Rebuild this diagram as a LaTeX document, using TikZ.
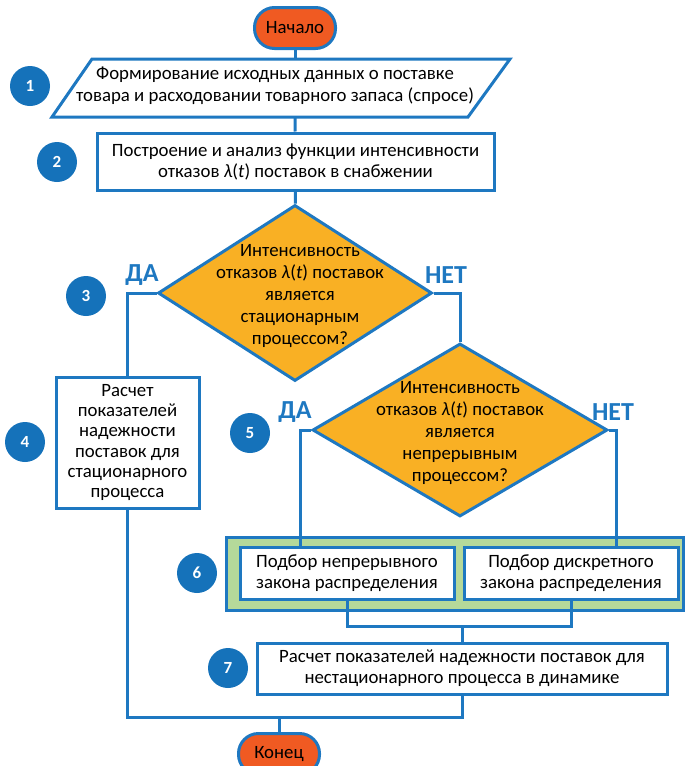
\documentclass[tikz,border=0pt]{standalone}
\usepackage{fontspec}
\setmainfont{Carlito}
\usetikzlibrary{shapes.geometric}
\definecolor{lineblue}{RGB}{30,120,193}
\definecolor{numblue}{RGB}{21,114,186}
\definecolor{termorange}{RGB}{240,90,34}
\definecolor{decyellow}{RGB}{249,176,36}
\definecolor{groupgreen}{RGB}{181,217,154}
\tikzset{
  conn/.style = {draw = lineblue, line width = 3pt},
  terminal/.style = {draw = lineblue, line width = 3pt, fill = termorange, rounded corners = 20pt,
    minimum width = 81pt, minimum height = 41pt, font = \fontsize{18.8}{22}\selectfont},
  procbox/.style = {draw = lineblue, line width = 3pt, fill = white, align = center, inner sep = 0pt,
    font = \fontsize{18.8}{21}\selectfont},
  decision/.style = {diamond, draw = lineblue, line width = 3pt, fill = decyellow, inner sep = 0pt},
  qtext/.style = {align = center, font = \fontsize{18.8}{22}\selectfont},
  stepnum/.style = {circle, fill = numblue, text = white, minimum size = 40pt, inner sep = 0pt,
    font = \fontsize{17}{17}\selectfont\bfseries},
  answer/.style = {text = lineblue, font = \fontsize{26}{26}\selectfont\bfseries}
}
\newcommand{\lamt}{\textit{λ}(\textit{t})}
\begin{document}
\begin{tikzpicture}[x = 1pt, y = -1pt]
        \useasboundingbox (0, 0) rectangle (688, 766);
        %group of step 6
        \draw[conn, fill = groupgreen] (226, 537) rectangle (683, 610);
        %nodes
        \node[terminal] (start) at (295, 28) {Начало};
        \draw[conn, fill = white] (92, 59) -- (510, 59) -- (468, 117) -- (52, 117) -- cycle;
        \node[qtext] (input) at (275, 86) {Формирование исходных данных о поставке\\товара и расходовании товарного запаса (спросе)};
        \coordinate (intop) at (295, 59);
        \coordinate (inbot) at (295, 117);
        \node[procbox, minimum width = 397pt, minimum height = 57pt] (analysis) at (295.5, 161.5)
          {Построение и анализ функции интенсивности\\отказов \lamt{} поставок в снабжении};
        \node[decision, minimum width = 274pt, minimum height = 176pt] (stat) at (295, 293) {};
        \node[qtext] (stattext) at (300, 296) {Интенсивность\\отказов \lamt{} поставок\\является\\стационарным\\процессом?};
        \node[procbox, minimum width = 143pt, minimum height = 131pt, font = \fontsize{18.8}{20.2}\selectfont] (statcalc) at (127.5, 442.5)
          {Расчет\\показателей\\надежности\\поставок для\\стационарного\\процесса};
        \node[decision, minimum width = 295pt, minimum height = 173pt] (cont) at (460, 430) {};
        \node[qtext] (conttext) at (460, 433) {Интенсивность\\отказов \lamt{} поставок\\является\\непрерывным\\процессом?};
        \node[procbox, minimum width = 214pt, minimum height = 52pt] (contlaw) at (347, 573)
          {Подбор непрерывного\\закона распределения};
        \node[procbox, minimum width = 214pt, minimum height = 52pt] (disclaw) at (571, 573)
          {Подбор дискретного\\закона распределения};
        \node[procbox, minimum width = 410pt, minimum height = 51pt] (dyncalc) at (462, 668.5)
          {Расчет показателей надежности поставок для\\нестационарного процесса в динамике};
        \node[terminal] (finish) at (279, 754) {Конец};
        \coordinate (lawjoin) at (462, 626);
        \coordinate (endjoin) at (279, 717);
        %labels
        \node[answer] (yes1) at (142, 275) {ДА};
        \node[answer] (no1) at (446, 275) {НЕТ};
        \node[answer] (yes2) at (295, 412) {ДА};
        \node[answer] (no2) at (613, 412) {НЕТ};
        \node[stepnum] (n1) at (30, 86) {1};
        \node[stepnum] (n2) at (57, 162) {2};
        \node[stepnum] (n3) at (86, 296) {3};
        \node[stepnum] (n4) at (25, 442) {4};
        \node[stepnum] (n5) at (250, 433) {5};
        \node[stepnum] (n6) at (197, 573) {6};
        \node[stepnum] (n7) at (228, 668) {7};
        %edges
        \path[conn] (start) -- (intop);
        \path[conn] (inbot) -- (analysis);
        \path[conn] (analysis) -- (stat);
        \path[conn] (stat.west) -| (statcalc.north);
        \path[conn] (stat.east) -| (cont.north);
        \path[conn] (cont.west) -| ([xshift = 62pt]contlaw.north west);
        \path[conn] (cont.east) -| ([xshift = 154pt]disclaw.north west);
        \path[conn] (contlaw.south) |- (lawjoin);
        \path[conn] (disclaw.south) |- (lawjoin);
        \path[conn] (lawjoin) -- (dyncalc.north);
        \path[conn] (statcalc.south) |- (endjoin);
        \path[conn] (dyncalc.south) |- (endjoin);
        \path[conn] (endjoin) -- (finish);
      \end{tikzpicture}
\end{document}
